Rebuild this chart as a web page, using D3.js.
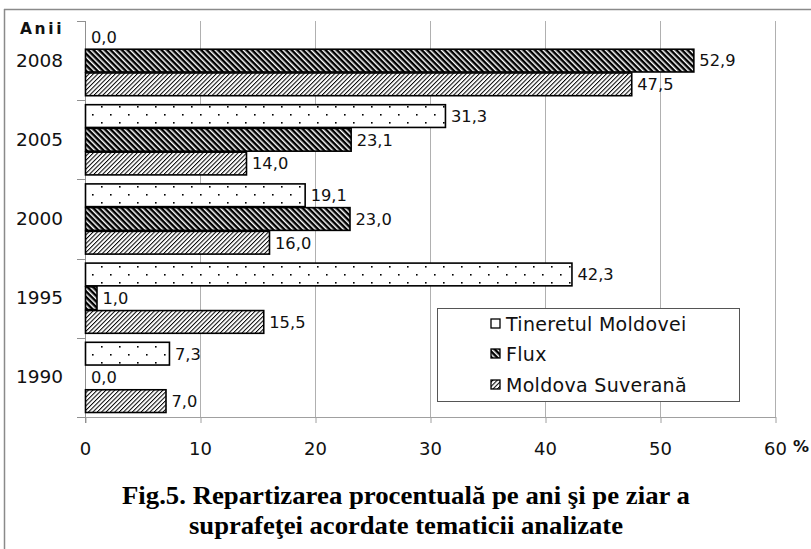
<!DOCTYPE html>
<html><head><meta charset="utf-8">
<script src="https://cdn.jsdelivr.net/npm/d3@7"></script>
<style>
html,body{margin:0;padding:0;background:#fff;}
svg{display:block;}
</style></head>
<body>
<script>
const years = ["2008","2005","2000","1995","1990"];
const seriesNames = ["Tineretul Moldovei","Flux","Moldova Suverană"];
const tineretul = [0.0, 31.3, 19.1, 42.3, 7.3];
const flux = [52.9, 23.1, 23.0, 1.0, 0.0];
const moldova = [47.5, 14.0, 16.0, 15.5, 7.0];
const xTicks = [0,10,20,30,40,50,60];
const captionLines = ["Fig.5. Repartizarea procentuală pe ani şi pe ziar a", "suprafeţei acordate tematicii analizate"];

const W = 811, H = 549;
const svg = d3.select("body").append("svg").attr("width", W).attr("height", H);
const defs = svg.append("defs");

// dotted pattern
const pDots = defs.append("pattern").attr("id","pDots").attr("patternUnits","userSpaceOnUse")
  .attr("width",18).attr("height",16);
pDots.append("rect").attr("width",18).attr("height",16).attr("fill","#fff");
pDots.append("rect").attr("x",2).attr("y",2).attr("width",1.6).attr("height",1.6).attr("fill","#000");
pDots.append("rect").attr("x",11).attr("y",10).attr("width",1.6).attr("height",1.6).attr("fill","#000");

// dark downward diagonal
const pFlux = defs.append("pattern").attr("id","pFlux").attr("patternUnits","userSpaceOnUse")
  .attr("width",8).attr("height",4).attr("patternTransform","rotate(45)");
pFlux.append("rect").attr("width",8).attr("height",4).attr("fill","#fff");
pFlux.append("rect").attr("width",8).attr("height",2.5).attr("fill","#000");

// light upward diagonal
const pMold = defs.append("pattern").attr("id","pMold").attr("patternUnits","userSpaceOnUse")
  .attr("width",8).attr("height",3.1).attr("patternTransform","rotate(-45)");
pMold.append("rect").attr("width",8).attr("height",3.1).attr("fill","#fff");
pMold.append("rect").attr("width",8).attr("height",1).attr("fill","#000");

const fills = ["url(#pDots)","url(#pFlux)","url(#pMold)"];
const seriesVals = [tineretul, flux, moldova];

// frame
svg.append("line").attr("x1",4).attr("x2",W).attr("y1",9.5).attr("y2",9.5).attr("stroke","#8a8a8a").attr("stroke-width",1.5);
svg.append("line").attr("x1",4.5).attr("x2",4.5).attr("y1",9).attr("y2",H).attr("stroke","#8a8a8a").attr("stroke-width",1.5);

const x = d3.scaleLinear().domain([0,60]).range([85,775]);
const y = d3.scaleBand().domain(years).range([21,417]).paddingInner(0.101).paddingOuter(0.0505);
const ys = d3.scaleBand().domain(d3.range(3)).range([0, y.bandwidth()]);

// gridlines
svg.append("g").selectAll("line").data(xTicks.slice(1)).join("line")
  .attr("x1", d=>x(d)+0.5).attr("x2", d=>x(d)+0.5).attr("y1",21).attr("y2",417)
  .attr("stroke","#b0b0b0").attr("stroke-width",1);

// x axis
const xAxis = svg.append("g").attr("transform","translate(0,417)")
  .call(d3.axisBottom(x).tickValues(xTicks).tickSize(6).tickPadding(19).tickFormat(d3.format("d")));
xAxis.select(".domain").remove();
xAxis.selectAll(".tick line").attr("stroke","#a0a0a0").attr("transform","translate(0.5,0)");
xAxis.selectAll(".tick text").attr("font-family","DejaVu Sans").attr("font-size",18).attr("fill","#111");
svg.append("line").attr("x1",77).attr("x2",776).attr("y1",417.5).attr("y2",417.5).attr("stroke","#a0a0a0");

// y axis
const yAxis = svg.append("g").attr("transform","translate(85,0)")
  .call(d3.axisLeft(y).tickSize(0).tickPadding(22));
yAxis.select(".domain").remove();
yAxis.selectAll(".tick text").attr("font-family","DejaVu Sans").attr("font-size",18.5).attr("fill","#111");
const bounds = years.map(d => y(d) - y.step()*y.paddingInner()/2).concat([417]);
bounds[0] = 21;
svg.append("g").selectAll("line").data(bounds).join("line")
  .attr("x1",77).attr("x2",85).attr("y1",d=>Math.round(d)+0.5).attr("y2",d=>Math.round(d)+0.5)
  .attr("stroke","#909090");
svg.append("line").attr("x1",85.5).attr("x2",85.5).attr("y1",21).attr("y2",423).attr("stroke","#909090");

// bars
const fmt = v => d3.format(".1f")(v).replace(".", ",");
const barsG = svg.append("g");
seriesVals.forEach((vals, si) => {
  const g = barsG.append("g");
  g.selectAll("rect").data(years.map((yr,i)=>({yr, v: vals[i]})).filter(d=>d.v>0)).join("rect")
    .attr("x", x(0)+0.5)
    .attr("y", d => y(d.yr) + ys(si) + 0.5)
    .attr("width", d => x(d.v) - x(0))
    .attr("height", ys.bandwidth() - 1)
    .attr("fill", fills[si]).attr("stroke","#000").attr("stroke-width",1.6);
  g.selectAll("text").data(years.map((yr,i)=>({yr, v: vals[i]}))).join("text")
    .attr("x", d => x(d.v) + 6)
    .attr("y", d => y(d.yr) + ys(si) + ys.bandwidth()/2)
    .attr("dy","0.36em")
    .attr("font-family","DejaVu Sans").attr("font-size",16.3).attr("fill","#111")
    .text(d => fmt(d.v));
});

// legend
const lg = svg.append("g");
lg.append("rect").attr("x",437.5).attr("y",308.5).attr("width",302).attr("height",93)
  .attr("fill","#fff").attr("stroke","#555").attr("stroke-width",1);
const legY = [324, 354, 385];
seriesNames.forEach((n, i) => {
  lg.append("rect").attr("x",491).attr("y",legY[i]-5).attr("width",9).attr("height",9)
    .attr("fill",fills[i]).attr("stroke","#000").attr("stroke-width",1.3);
  lg.append("text").attr("x",506).attr("y",legY[i]).attr("dy","0.36em")
    .attr("font-family","DejaVu Sans").attr("font-size",19).attr("letter-spacing",0.3).attr("fill","#111")
    .text(n);
});

// labels
svg.append("text").attr("x",20).attr("y",34).attr("font-family","DejaVu Sans").attr("font-weight","bold")
  .attr("font-size",15.5).attr("letter-spacing",2.6).attr("fill","#111").text("Anii");
svg.append("text").attr("x",793).attr("y",452).attr("font-family","DejaVu Sans").attr("font-weight","bold")
  .attr("font-size",16).attr("fill","#111").text("%");

// caption
const capW = [568, 434];
const capY = [504, 534];
captionLines.forEach((t,i) => {
  svg.append("text").attr("x",406).attr("y",capY[i]).attr("text-anchor","middle")
    .attr("font-family","Liberation Serif").attr("font-weight","bold").attr("font-size",26)
    .attr("textLength",capW[i]).attr("lengthAdjust","spacingAndGlyphs").attr("fill","#000").text(t);
});
</script>
</body></html>
